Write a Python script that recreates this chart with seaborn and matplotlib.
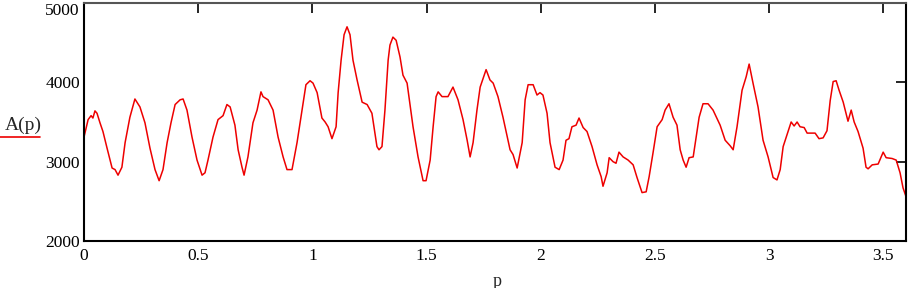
import numpy as np
import pandas as pd
import matplotlib
matplotlib.use("Agg")
import matplotlib.pyplot as plt
from matplotlib.lines import Line2D
import seaborn as sns

# values
p = [0, 0.018, 0.031, 0.039, 0.048, 0.057, 0.070, 0.083, 0.101, 0.123, 0.136, 0.149,
     0.166, 0.180, 0.201, 0.223, 0.245, 0.267, 0.289, 0.311, 0.329, 0.346, 0.364, 0.381,
     0.399, 0.421, 0.434, 0.451, 0.473, 0.495, 0.517, 0.530, 0.543, 0.565, 0.587, 0.609,
     0.626, 0.640, 0.661, 0.675, 0.692, 0.701, 0.718, 0.740, 0.758, 0.775, 0.784, 0.806,
     0.828, 0.850, 0.872, 0.889, 0.911, 0.933, 0.955, 0.972, 0.990, 1.003, 1.021, 1.042,
     1.056, 1.069, 1.086, 1.104, 1.113, 1.126, 1.139, 1.152, 1.165, 1.178, 1.196, 1.218,
     1.240, 1.261, 1.283, 1.292, 1.305, 1.318, 1.332, 1.340, 1.353, 1.367, 1.384, 1.397,
     1.415, 1.441, 1.463, 1.485, 1.498, 1.516, 1.529, 1.542, 1.551, 1.568, 1.594, 1.616,
     1.638, 1.660, 1.678, 1.691, 1.704, 1.721, 1.735, 1.761, 1.778, 1.792, 1.813, 1.835,
     1.866, 1.879, 1.897, 1.919, 1.932, 1.945, 1.967, 1.984, 1.997, 2.010, 2.028, 2.041,
     2.063, 2.081, 2.098, 2.111, 2.124, 2.137, 2.155, 2.168, 2.186, 2.203, 2.225, 2.247,
     2.265, 2.273, 2.291, 2.300, 2.317, 2.330, 2.343, 2.361, 2.383, 2.405, 2.422, 2.444,
     2.462, 2.475, 2.492, 2.510, 2.532, 2.545, 2.562, 2.580, 2.597, 2.611, 2.624, 2.637,
     2.650, 2.668, 2.681, 2.694, 2.711, 2.733, 2.755, 2.786, 2.808, 2.830, 2.843, 2.860,
     2.882, 2.900, 2.913, 2.930, 2.952, 2.974, 2.996, 3.018, 3.035, 3.049, 3.062, 3.079,
     3.097, 3.110, 3.123, 3.136, 3.154, 3.167, 3.202, 3.219, 3.237, 3.254, 3.268, 3.281,
     3.294, 3.307, 3.325, 3.342, 3.346, 3.360, 3.373, 3.390, 3.412, 3.425, 3.434, 3.452,
     3.478, 3.500, 3.513, 3.539, 3.557, 3.574, 3.587, 3.600]
A = [3310, 3530, 3580, 3550, 3640, 3610, 3490, 3380, 3170, 2920, 2900, 2830,
     2930, 3240, 3560, 3790, 3690, 3490, 3170, 2900, 2760, 2900, 3240, 3490,
     3720, 3780, 3790, 3650, 3310, 3020, 2830, 2860, 3020, 3310, 3530, 3580,
     3720, 3690, 3460, 3150, 2930, 2830, 3060, 3490, 3650, 3880, 3820, 3780,
     3650, 3310, 3060, 2900, 2900, 3240, 3650, 3970, 4020, 3990, 3870, 3550,
     3500, 3440, 3290, 3440, 3870, 4280, 4600, 4700, 4600, 4280, 4030, 3750,
     3720, 3610, 3190, 3150, 3190, 3650, 4280, 4470, 4570, 4530, 4320, 4090,
     3990, 3440, 3060, 2760, 2760, 3020, 3440, 3820, 3880, 3820, 3820, 3940,
     3780, 3530, 3270, 3060, 3240, 3650, 3940, 4160, 4030, 3990, 3820, 3560,
     3150, 3090, 2920, 3240, 3780, 3970, 3970, 3840, 3870, 3840, 3610, 3240,
     2930, 2900, 3020, 3270, 3290, 3440, 3460, 3550, 3430, 3380, 3190, 2960,
     2810, 2690, 2860, 3050, 3000, 2980, 3120, 3060, 3020, 2960, 2800, 2610,
     2620, 2810, 3110, 3440, 3530, 3650, 3730, 3560, 3460, 3150, 3020, 2930,
     3050, 3060, 3310, 3560, 3730, 3730, 3650, 3460, 3270, 3200, 3150, 3440,
     3900, 4070, 4230, 3990, 3690, 3270, 3060, 2800, 2770, 2900, 3190, 3340,
     3500, 3450, 3500, 3440, 3430, 3360, 3360, 3290, 3300, 3390, 3770, 4010,
     4020, 3900, 3750, 3560, 3510, 3650, 3500, 3380, 3170, 2930, 2910, 2960,
     2970, 3120, 3050, 3040, 3020, 2860, 2670, 2560]

x_ticks = [0, 0.5, 1, 1.5, 2, 2.5, 3, 3.5]
x_tick_labels = ["0", "0.5", "1", "1.5", "2", "2.5", "3", "3.5"]
y_ticks = [2000, 3000, 4000, 5000]

df = pd.DataFrame({"p": p, "A": A})

sns.set_style("white")
plt.rcParams["font.family"] = ["Liberation Serif", "DejaVu Serif"]

fig = plt.figure(figsize=(9.08, 2.88), dpi=100)
ax = fig.add_axes([84 / 908, 1 - 241 / 288, 822 / 908, 238 / 288])

sns.lineplot(data=df, x="p", y="A", color="#ee0000", lw=1.1, estimator=None, ax=ax)

ax.set_xlim(0, 3.6)
ax.set_ylim(2000, 5000)
ax.set_xticks(x_ticks)
ax.set_xticklabels(x_tick_labels)
ax.set_yticks(y_ticks)
ax.tick_params(direction="in", length=7.5, width=1.2, colors="black", labelsize=12.5,
               top=True, right=True, pad=3)
ax.tick_params(axis="x", pad=5)
for side in ["left", "bottom", "right"]:
    ax.spines[side].set_color("black")
    ax.spines[side].set_linewidth(1.5)
ax.spines["top"].set_color("#555555")
ax.spines["top"].set_linewidth(1.5)
ax.set_xlabel("")
ax.set_ylabel("")
# keep the top label inside the picture
ax.get_yticklabels()[-1].set_verticalalignment("top")
ax.get_yticklabels()[-1].set_y(5000)

fig.text(497 / 908, 1 - 281 / 288, "p", ha="center", va="center", fontsize=13)
fig.text(23 / 908, 1 - 125 / 288, "A(p)", ha="center", va="center", fontsize=14)
fig.add_artist(Line2D([0, 40 / 908], [1 - 137 / 288, 1 - 137 / 288],
                      transform=fig.transFigure, color="#ee0000", lw=1.2))

fig.savefig("out.png", dpi=100)
